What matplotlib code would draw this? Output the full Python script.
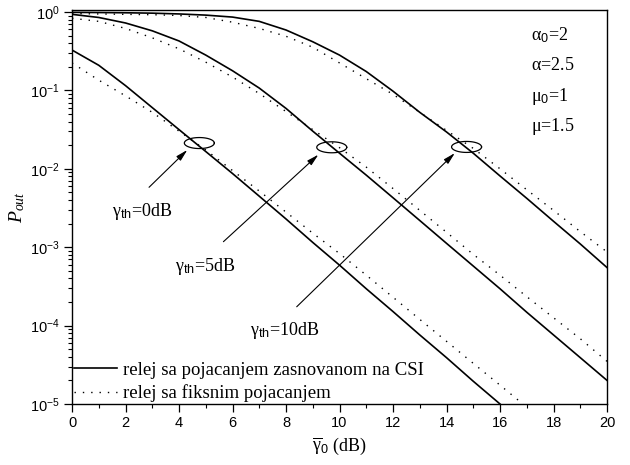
import numpy as np
import matplotlib
matplotlib.use("Agg")
import matplotlib.pyplot as plt
from matplotlib.lines import Line2D

plt.rcParams['font.family'] = ['Liberation Sans', 'DejaVu Sans']
plt.rcParams['mathtext.fontset'] = 'custom'
plt.rcParams['mathtext.rm'] = 'Liberation Serif'
plt.rcParams['mathtext.it'] = 'Liberation Serif:italic'
plt.rcParams['mathtext.sf'] = 'Liberation Sans'
plt.rcParams['axes.unicode_minus'] = False

SERIF = 'Liberation Serif'

# average SNR (dB)
snr_db = [0, 1, 2, 3, 4, 5, 6, 7, 8, 9, 10, 11, 12, 13, 14, 15, 16, 17, 18, 19, 20]

# gamma_th = 0 dB
csi_0 = [0.327, 0.209, 0.115, 0.0603, 0.0316, 0.0166, 8.7e-3, 4.47e-3, 2.29e-3,
         1.15e-3, 5.9e-4, 2.95e-4, 1.51e-4, 7.6e-5, 3.9e-5, 1.95e-5, 1.0e-5]
fix_0 = [0.224, 0.135, 0.0851, 0.0525, 0.0302, 0.0174, 9.5e-3, 5.2e-3, 2.8e-3,
         1.51e-3, 8.3e-4, 4.4e-4, 2.3e-4, 1.2e-4, 6.3e-5, 3.3e-5, 1.74e-5, 9.1e-6]

# gamma_th = 5 dB
csi_5 = [0.933, 0.851, 0.724, 0.575, 0.427, 0.282, 0.178, 0.107, 0.0589, 0.0302,
         0.0158, 8.3e-3, 4.27e-3, 2.19e-3, 1.12e-3, 5.75e-4, 2.95e-4, 1.48e-4,
         7.6e-5, 3.9e-5, 2.0e-5]
fix_5 = [0.832, 0.759, 0.617, 0.468, 0.339, 0.229, 0.148, 0.0912, 0.0537, 0.0316,
         0.0186, 0.0105, 5.6e-3, 2.95e-3, 1.55e-3, 8.1e-4, 4.4e-4, 2.34e-4,
         1.26e-4, 6.8e-5, 3.5e-5]

# gamma_th = 10 dB
csi_10 = [0.989, 0.984, 0.977, 0.966, 0.944, 0.912, 0.861, 0.759, 0.589, 0.417,
          0.282, 0.174, 0.0977, 0.0525, 0.0295, 0.0158, 8.1e-3, 4.2e-3, 2.14e-3,
          1.1e-3, 5.5e-4]
fix_10 = [0.955, 0.944, 0.933, 0.923, 0.902, 0.851, 0.741, 0.617, 0.49, 0.355,
          0.224, 0.141, 0.0891, 0.0525, 0.0309, 0.0182, 0.01, 5.4e-3, 2.95e-3,
          1.58e-3, 8.7e-4]

# annotation marks: ellipse centres, arrow tails/tips, labels
ell_x = [4.76, 9.71, 14.75]
ell_y = [0.0213, 0.0188, 0.019]
arrow_tail = [(2.88, 10**-2.236), (5.66, 10**-2.93), (8.4, 10**-3.76)]
arrow_tip = [(4.31, 10**-1.76), (9.21, 10**-1.82), (14.31, 10**-1.80)]
th_labels = ['0dB', '5dB', '10dB']
th_pos = [(1.5, 10**-2.55), (3.85, 10**-3.25), (6.65, 10**-4.06)]

params = [r'$\mathrm{\alpha}_{\mathsf{0}}$=2', r'$\mathrm{\alpha}$=2.5',
          r'$\mathrm{\mu}_{\mathsf{0}}$=1', r'$\mathrm{\mu}$=1.5']

fig = plt.figure(figsize=(6.3, 4.65), dpi=100)
ax = fig.add_axes([0.1143, 0.1312, 0.8492, 0.8473])

lw = 1.2
dots = (0, (1, 5))
for csi, fix in [(csi_0, fix_0), (csi_5, fix_5), (csi_10, fix_10)]:
    ax.plot(snr_db[:len(csi)], csi, color='k', lw=lw)
    ax.plot(snr_db[:len(fix)], fix, color='k', lw=1.0, linestyle=dots)

t = np.linspace(0, 2 * np.pi, 100)
for cx, cy in zip(ell_x, ell_y):
    ax.plot(cx + 0.56 * np.cos(t), cy * 10 ** (0.07 * np.sin(t)), color='k', lw=0.9)

for tail, tip in zip(arrow_tail, arrow_tip):
    ax.annotate('', xy=tip, xytext=tail,
                arrowprops=dict(arrowstyle='-|>,head_width=0.18,head_length=0.7',
                                color='k', lw=0.8, shrinkA=0, shrinkB=0))

for lab, (tx, ty) in zip(th_labels, th_pos):
    ax.text(tx, ty, r'$\mathrm{\gamma}_{\mathsf{th}}$=' + lab, fontsize=13,
            family=SERIF, ha='left', va='center')

for i, p in enumerate(params):
    ax.text(0.857, 0.935 - i * 0.077, p, transform=ax.transAxes, fontsize=13,
            family=SERIF, ha='left', va='center')

ax.set_yscale('log')
ax.set_xlim(0, 20)
ax.set_ylim(1e-5, 1.06)
ax.set_xticks(range(0, 21, 2))
ax.set_xticks(range(0, 21), minor=True)
ax.tick_params(which='major', direction='out', length=5.5, width=0.9,
               labelsize=10.5)
ax.tick_params(which='minor', direction='out', length=3, width=0.8)
for s in ax.spines.values():
    s.set_linewidth(1.0)

ax.set_ylabel(r'$P_{out}$', fontsize=14, labelpad=2)
ax.set_xlabel(r'$\overline{\mathrm{\gamma}}_{\mathsf{0}}$ (dB)', fontsize=13,
              family=SERIF, labelpad=4)

handles = [Line2D([], [], color='k', lw=lw),
           Line2D([], [], color='k', lw=1.0, linestyle=dots)]
ax.legend(handles, ['relej sa pojacanjem zasnovanom na CSI',
                    'relej sa fiksnim pojacanjem'],
          loc='lower left', frameon=False, prop={'family': SERIF, 'size': 13.5},
          handlelength=2.3, handletextpad=0.3, labelspacing=0.3,
          borderaxespad=0.0, borderpad=0.1)

fig.savefig('out.png', dpi=100)
